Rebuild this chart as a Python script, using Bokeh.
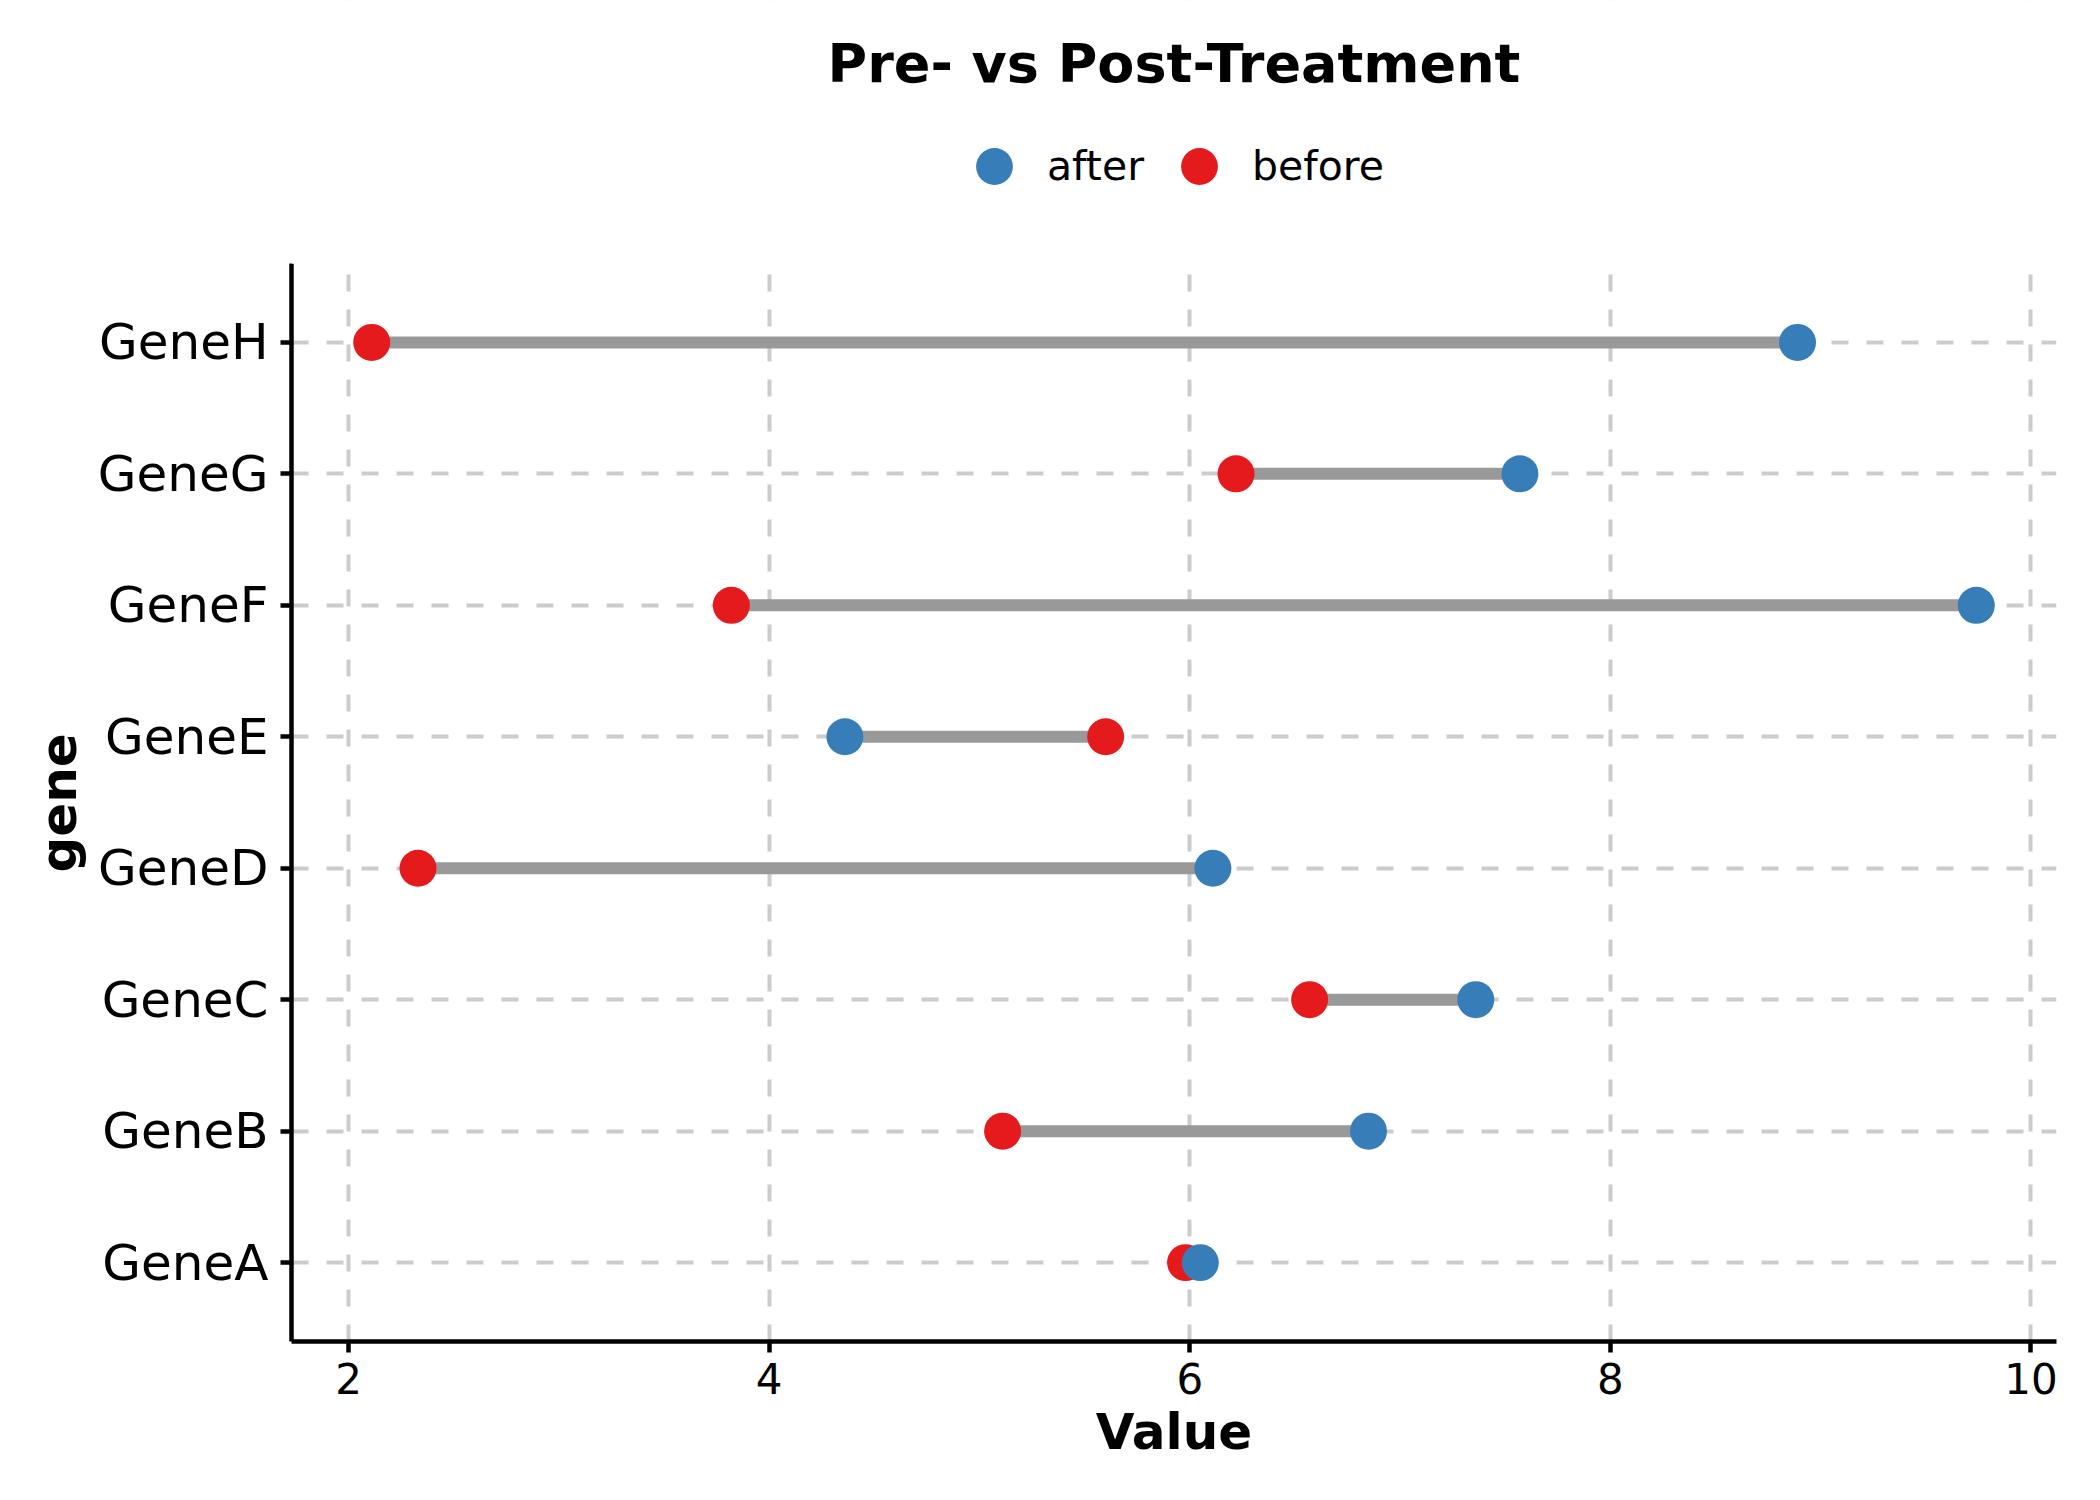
from bokeh.plotting import figure
from bokeh.models import (Range1d, FixedTicker, Legend, LegendItem, Label, Title,
                          BoxAnnotation, ColumnDataSource)
from bokeh.embed import file_html
from bokeh.resources import INLINE

# ---- data ----
genes = ["GeneA", "GeneB", "GeneC", "GeneD", "GeneE", "GeneF", "GeneG", "GeneH"]
before = [5.98, 5.11, 6.57, 2.33, 5.60, 3.82, 6.22, 2.11]
after = [6.05, 6.85, 7.36, 6.11, 4.36, 9.74, 7.57, 8.89]
x_ticks = [2, 4, 6, 8, 10]
series_labels = ["after", "before"]
title_text = "Pre- vs Post-Treatment"
x_label = "Value"
y_label = "gene"

# ---- styles / layout ----
FONT = "DejaVu Sans"
RED = "#E41A1C"
BLUE = "#377EB8"
SEG = "#999999"
GRID = "#cccccc"

W, H = 2084, 1484
BL, BR, BB = 291, 28, 143
HEADER = 263                      # space above the data panel (inside the frame)
FW = W - BL - BR
FH = H - BB                       # frame spans to the top of the figure
PANEL_H = FH - HEADER             # height of the data panel

ypos = [i + 1 for i in range(len(genes))]
src = ColumnDataSource(dict(gene=genes, y=ypos, before=before, after=after))

lo = min(before + after)
hi = max(before + after)
pad = 0.05 * (hi - lo)
y_lo, y_hi = 0.4, len(genes) + 0.6
y_top = y_hi + HEADER * (y_hi - y_lo) / PANEL_H

p = figure(width=W, height=H, output_backend="svg", toolbar_location=None,
           x_range=Range1d(lo - pad, hi + pad),
           y_range=Range1d(y_lo, y_top),
           title=None,
           min_border_left=BL, min_border_right=BR,
           min_border_top=0, min_border_bottom=BB)
p.outline_line_color = None
p.background_fill_color = "white"
p.border_fill_color = "white"

# grids
for g in (p.xgrid, p.ygrid):
    g.grid_line_color = GRID
    g.grid_line_width = 4
    g.grid_line_dash = "17 18"
p.xgrid.ticker = FixedTicker(ticks=x_ticks)
p.ygrid.ticker = FixedTicker(ticks=ypos)

# axes
p.xaxis.ticker = FixedTicker(ticks=x_ticks)
p.yaxis.ticker = FixedTicker(ticks=ypos)
p.yaxis.bounds = (y_lo, y_hi)
p.yaxis.major_label_overrides = {y: g for y, g in zip(ypos, genes)}
for ax in (p.xaxis[0], p.yaxis[0]):
    ax.axis_line_color = "black"
    ax.axis_line_width = 4.5
    ax.major_tick_line_color = "black"
    ax.major_tick_line_width = 4.5
    ax.major_tick_in = 0
    ax.major_tick_out = 11
    ax.minor_tick_line_color = None
    ax.major_label_text_font = FONT
    ax.major_label_text_color = "black"
    ax.axis_label_text_font = FONT
    ax.axis_label_text_font_style = "bold"
    ax.axis_label_text_font_size = "50px"
    ax.axis_label_text_color = "black"

p.xaxis.axis_label = x_label
p.xaxis.major_label_text_font_size = "42px"
p.yaxis.major_label_text_font_size = "50px"
p.xaxis.major_label_standoff = 10
p.yaxis.major_label_standoff = 12
p.xaxis.axis_label_standoff = 6

# y-axis title, centred on the data panel (not on the whole frame)
y_title = Title(text=y_label, align="left", vertical_align="bottom",
                offset=FH - (HEADER + PANEL_H / 2) - 70, standoff=14,
                text_font=FONT, text_font_size="50px", text_font_style="bold",
                text_color="black")
p.add_layout(y_title, "left")

# marks
p.segment(x0="before", x1="after", y0="y", y1="y", source=src,
          line_color=SEG, line_width=12)
r_before = p.scatter(x="before", y="y", source=src, size=37, marker="circle",
                     fill_color=RED, line_color=None)
r_after = p.scatter(x="after", y="y", source=src, size=37, marker="circle",
                    fill_color=BLUE, line_color=None)

# blank header band above the data panel (hides grid lines there)
cover = BoxAnnotation(bottom=y_hi, top=y_top + 1, fill_color="white",
                      fill_alpha=1.0, line_color=None)
p.add_layout(cover)

legend = Legend(items=[LegendItem(label=series_labels[0], renderers=[r_after]),
                       LegendItem(label=series_labels[1], renderers=[r_before])],
                orientation="horizontal", location=(657, FH - 166 - 46),
                glyph_width=92, glyph_height=92, label_standoff=7, spacing=9,
                padding=0, margin=0, border_line_color=None,
                background_fill_alpha=0,
                label_text_font=FONT, label_text_font_size="41px",
                label_text_color="black")
p.add_layout(legend)

title = Label(x=FW / 2, y=FH - 63, x_units="screen", y_units="screen",
              text=title_text, text_align="center", text_baseline="alphabetic",
              text_font=FONT, text_font_size="54px", text_font_style="bold",
              text_color="black")
p.add_layout(title)

open("out.html", "w").write(file_html(p, INLINE))
